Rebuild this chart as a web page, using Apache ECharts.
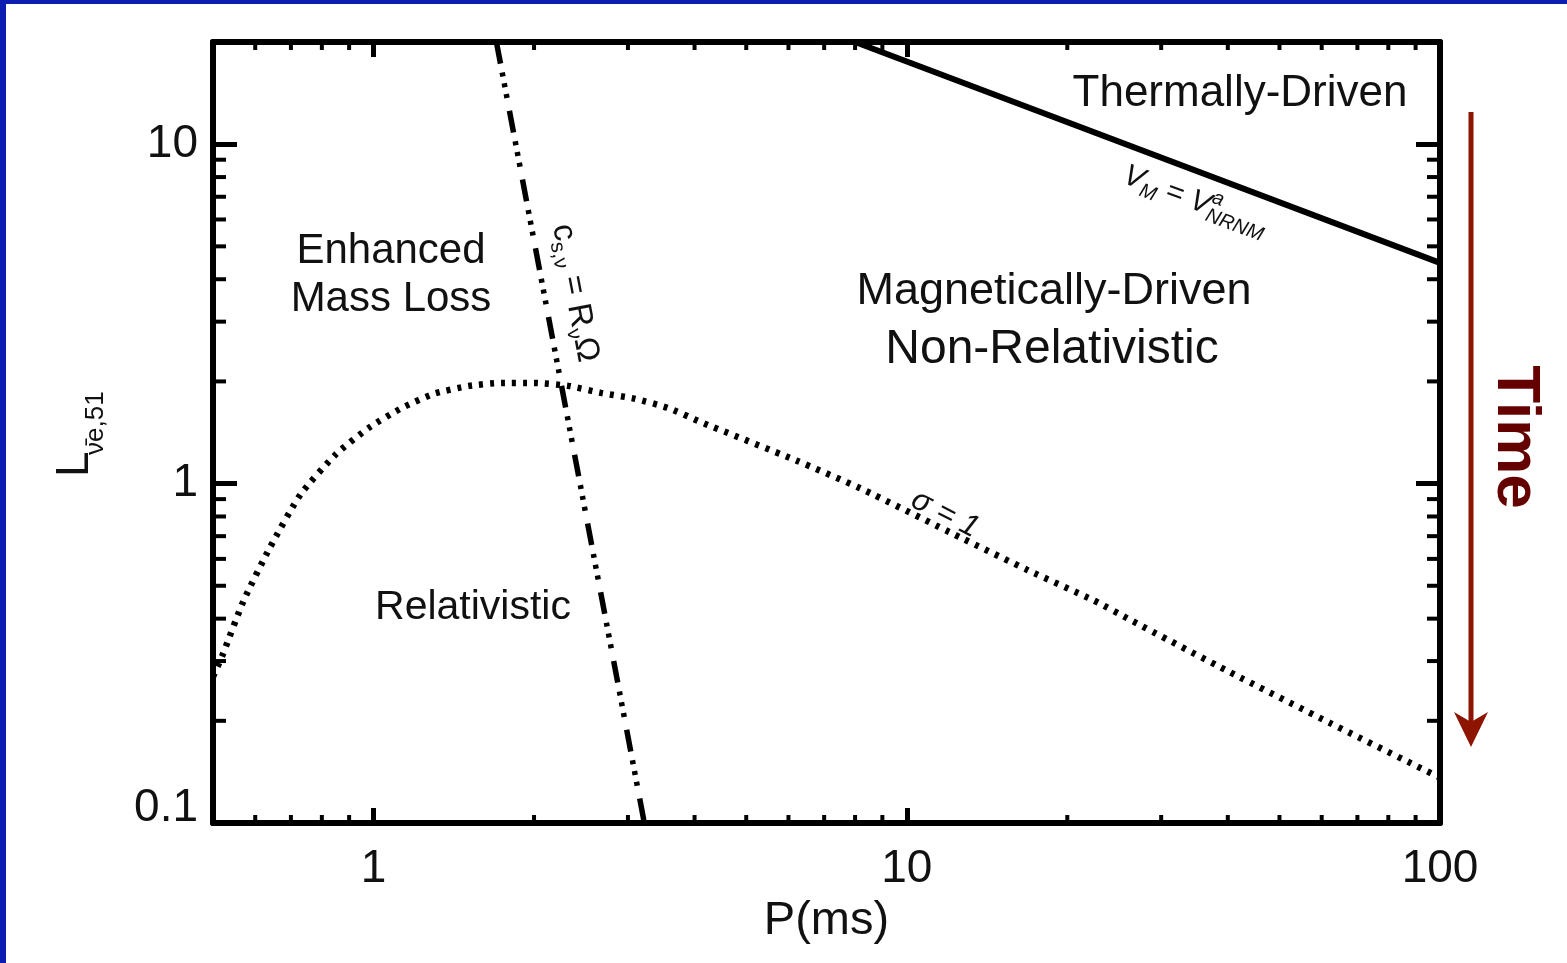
<!DOCTYPE html>
<html><head><meta charset="utf-8">
<script src="https://cdn.jsdelivr.net/npm/echarts@6/dist/echarts.min.js"></script>
<style>html,body{margin:0;padding:0;background:#fff}#c{width:1567px;height:963px}</style>
</head><body><div id="c"></div>
<script>
// ---- data ----
const xRange = [0.5, 100];
const yRange = [0.1, 20];
const xMinorTicks = [0.6, 0.7, 0.8, 0.9, 2, 3, 4, 5, 6, 7, 8, 9, 20, 30, 40, 50, 60, 70, 80, 90];
const yMinorTicks = [0.2, 0.3, 0.4, 0.5, 0.6, 0.7, 0.8, 0.9, 2, 3, 4, 5, 6, 7, 8, 9];
// sigma = 1 (dotted)
const sigmaP = [0.5, 0.52, 0.57, 0.64, 0.73, 0.85, 0.98, 1.13, 1.30, 1.51, 1.74, 2.0, 2.32, 2.67, 3.08, 3.57, 4.1, 6.2, 8.2, 12.6, 16.9, 22.4, 26.3, 40.4, 62.2, 100];
const sigmaL = [0.27, 0.31, 0.45, 0.65, 0.93, 1.22, 1.46, 1.67, 1.84, 1.94, 1.98, 1.98, 1.94, 1.85, 1.78, 1.67, 1.52, 1.17, 0.967, 0.694, 0.555, 0.453, 0.396, 0.278, 0.197, 0.136];
// v_M = v^a_NRNM (solid)
const thermP = [8.0, 100];
const thermL = [20, 4.47];
// c_s,nu = R_nu Omega (dash-dot-dot-dot)
const csP = [1.70, 3.22];
const csL = [20, 0.1];

const FONT = '"Liberation Sans", Arial, Helvetica, sans-serif';
const zip = (a, b) => a.map((v, i) => [v, b[i]]);

const ctx = document.createElement('canvas').getContext('2d');
function tw(t, f) { ctx.font = f; return ctx.measureText(t).width; }
function txt(t, x, y, font, extra) {
  return { type: 'text', x: x, y: y, silent: true,
    style: Object.assign({ text: t, font: font, fill: '#111', align: 'left', verticalAlign: 'middle' }, extra || {}) };
}
function seqLabel(parts, cx, cy, rot) {
  let x = 0, lastStart = 0; const ch = [];
  parts.forEach(p => {
    const w = tw(p.t, p.font);
    let start;
    if (p.stack) { start = lastStart; x = Math.max(x, start + w); }
    else { start = x; lastStart = start; x = start + w; }
    ch.push(txt(p.t, start, p.dy || 0, p.font));
  });
  ch.forEach(c => { c.x -= x / 2; });
  return { type: 'group', x: cx, y: cy, rotation: rot, children: ch };
}
function mainText(t, cx, cy, size, extra) {
  return txt(t, cx, cy, size + 'px ' + FONT, Object.assign({ align: 'center' }, extra || {}));
}

const axisLineStyle = { show: true, onZero: false, lineStyle: { color: '#000', width: 6 } };
const xTick = { show: true, inside: true, length: 15, lineStyle: { color: '#000', width: 5 } };
const yTick = { show: true, inside: true, length: 24, lineStyle: { color: '#000', width: 5 } };

const fM = 'italic 30px ' + FONT, fS = 'italic 20px ' + FONT;
const cM = '33px ' + FONT, cS = '21px ' + FONT;

const option = {
  animation: false,
  backgroundColor: '#fff',
  grid: { left: 213, right: 127, top: 42, bottom: 140 },
  xAxis: [
    { type: 'log', min: xRange[0], max: xRange[1], position: 'bottom',
      axisLine: axisLineStyle, axisTick: xTick, splitLine: { show: false }, minorTick: { show: false },
      axisLabel: { show: true, margin: 23, fontSize: 46, color: '#111', fontFamily: FONT, showMinLabel: false, showMaxLabel: true },
      name: 'P(ms)', nameLocation: 'middle', nameGap: 75,
      nameTextStyle: { fontSize: 47, color: '#111', fontFamily: FONT } },
    { type: 'log', min: xRange[0], max: xRange[1], position: 'top',
      axisLine: axisLineStyle, axisTick: xTick, splitLine: { show: false }, axisLabel: { show: false } }
  ],
  yAxis: [
    { type: 'log', min: yRange[0], max: yRange[1], position: 'left',
      axisLine: axisLineStyle, axisTick: yTick, splitLine: { show: false },
      axisLabel: { show: true, margin: 15, fontSize: 46, color: '#111', fontFamily: FONT, showMinLabel: true, showMaxLabel: false,
        formatter: v => (v < 0.5 ? '{low|' + v + '}' : String(v)),
        rich: { low: { fontSize: 46, fontFamily: FONT, color: '#111', padding: [0, 0, 30, 0] } } } },
    { type: 'log', min: yRange[0], max: yRange[1], position: 'right',
      axisLine: axisLineStyle, axisTick: yTick, splitLine: { show: false }, axisLabel: { show: false } }
  ],
  series: [
    { type: 'line', name: 'sigma=1', data: zip(sigmaP, sigmaL), showSymbol: false, smooth: 0.2, silent: true,
      lineStyle: { color: '#000', width: 6.5, type: [4, 7], cap: 'butt' }, z: 3 },
    { type: 'line', name: 'vM', data: zip(thermP, thermL), showSymbol: false, silent: true,
      lineStyle: { color: '#000', width: 6, type: 'solid' }, z: 3 },
    { type: 'line', name: 'cs', data: zip(csP, csL), showSymbol: false, silent: true,
      lineStyle: { color: '#000', width: 5.5, type: [22, 9, 4, 7, 4, 7, 4, 13], cap: 'butt' }, z: 3 },
    { type: 'custom', name: 'xminor', silent: true, clip: false, z: 5,
      data: xMinorTicks.map(v => [v, yRange[0]]),
      renderItem: (params, api) => {
        const v = api.value(0);
        const b = api.coord([v, yRange[0]]), t = api.coord([v, yRange[1]]);
        return { type: 'group', children: [
          { type: 'line', shape: { x1: b[0], y1: b[1], x2: b[0], y2: b[1] - 8 }, style: { stroke: '#000', lineWidth: 4 } },
          { type: 'line', shape: { x1: t[0], y1: t[1], x2: t[0], y2: t[1] + 8 }, style: { stroke: '#000', lineWidth: 4 } }
        ] };
      } },
    { type: 'custom', name: 'yminor', silent: true, clip: false, z: 5,
      data: yMinorTicks.map(v => [xRange[0], v]),
      renderItem: (params, api) => {
        const v = api.value(1);
        const l = api.coord([xRange[0], v]), r = api.coord([xRange[1], v]);
        return { type: 'group', children: [
          { type: 'line', shape: { x1: l[0], y1: l[1], x2: l[0] + 13, y2: l[1] }, style: { stroke: '#000', lineWidth: 4 } },
          { type: 'line', shape: { x1: r[0], y1: r[1], x2: r[0] - 13, y2: r[1] }, style: { stroke: '#000', lineWidth: 4 } }
        ] };
      } }
  ],
  graphic: [
    // blue frame
    { type: 'rect', shape: { x: 0, y: 0, width: 6, height: 963 }, style: { fill: '#0b1eaf' }, silent: true },
    { type: 'rect', shape: { x: 0, y: 0, width: 1567, height: 4 }, style: { fill: '#0b1eaf' }, silent: true },
    // region labels
    mainText('Thermally-Driven', 1240, 94, 44),
    mainText('Magnetically-Driven', 1054, 292, 45),
    mainText('Non-Relativistic', 1052, 350, 48),
    mainText('Enhanced', 391, 251, 42),
    mainText('Mass Loss', 391, 299, 42),
    mainText('Relativistic', 473, 608, 41),
    // y axis name
    { type: 'group', x: 75, y: 477, rotation: Math.PI / 2, children: [
      txt('L', 0, 0, '46px ' + FONT),
      txt('ν̄e,51', 22, 21, '26px ' + FONT)
    ] },
    // line labels
    seqLabel([{ t: 'c', font: cM }, { t: 's,ν', font: cS, dy: 9 }, { t: ' = R', font: cM }, { t: 'ν', font: cS, dy: 9 }, { t: 'Ω', font: cM }],
      575, 293, -79.2 * Math.PI / 180),
    seqLabel([{ t: 'V', font: fM }, { t: 'M', font: fS, dy: 9 }, { t: ' = V', font: fM }, { t: 'a', font: fS, dy: -10 }, { t: 'NRNM', font: fS, dy: 9, stack: true }],
      1195, 201, -20.6 * Math.PI / 180),
    { type: 'text', x: 945, y: 514, rotation: -27 * Math.PI / 180, silent: true,
      style: { text: 'σ = 1', font: 'italic 31px ' + FONT, fill: '#111', align: 'center', verticalAlign: 'middle' } },
    // Time arrow
    { type: 'line', shape: { x1: 1471, y1: 112, x2: 1471, y2: 724 }, style: { stroke: '#8c1400', lineWidth: 5 }, silent: true },
    { type: 'polygon', shape: { points: [[1471, 747], [1454, 712], [1471, 722], [1488, 712]] }, style: { fill: '#8c1400' }, silent: true },
    { type: 'text', x: 1515, y: 437, rotation: -Math.PI / 2, silent: true,
      style: { text: 'Time', font: 'bold 62px ' + FONT, fill: '#650000', align: 'center', verticalAlign: 'middle' } }
  ]
};
const chart = echarts.init(document.getElementById('c'));
chart.setOption(option);
</script></body></html>
